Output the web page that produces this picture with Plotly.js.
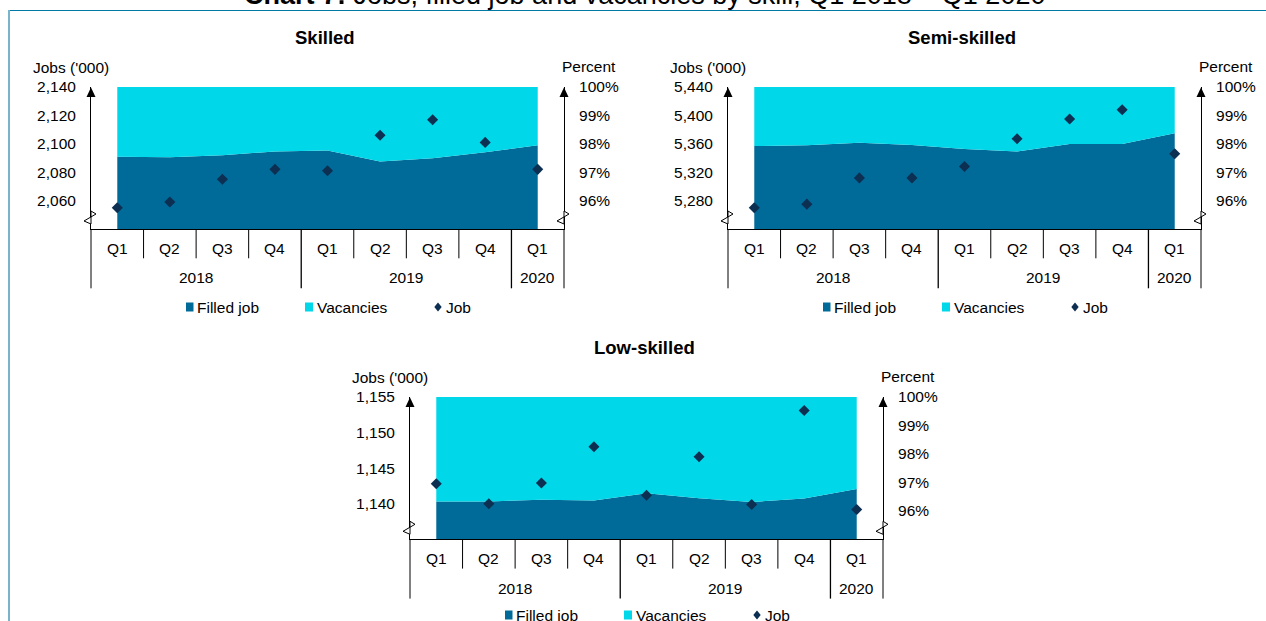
<!DOCTYPE html>
<html>
<head>
<meta charset="utf-8">
<script src="https://cdn.plot.ly/plotly-3.0.1.min.js"></script>
<style>
  html, body { margin: 0; padding: 0; background: #ffffff; overflow: hidden; }
  #chart { width: 1266px; height: 621px; }
</style>
</head>
<body>
<div id="chart"></div>
<script>
// ---- Categories ----
const quarters = ['Q1', 'Q2', 'Q3', 'Q4', 'Q1', 'Q2', 'Q3', 'Q4', 'Q1'];
const years = ['2018', '2018', '2018', '2018', '2019', '2019', '2019', '2019', '2020'];
const skillNames = ['Skilled', 'Semi-skilled', 'Low-skilled'];
const legendLabels = ['Filled job', 'Vacancies', 'Job'];
const chartTitle = '<b>Chart 7:</b> Jobs, filled job and vacancies by skill, Q1 2018 \u2013 Q1 2020';
const jobsAxisLabel = "Jobs ('000)";
const percentAxisLabel = 'Percent';

// ---- Jobs ('000), left axis ----
const skilledJobs = [2055, 2059, 2075, 2082, 2081, 2106, 2117, 2101, 2082];
const semiSkilledJobs = [5270, 5275, 5312, 5312, 5328, 5367, 5395, 5408, 5346];
const lowSkilledJobs = [1142.8, 1140.0, 1142.9, 1148.0, 1141.2, 1146.6, 1139.9, 1153.1, 1139.2];

// ---- Share of jobs (percent), right axis ----
const skilledFilled = [97.54, 97.53, 97.60, 97.73, 97.76, 97.38, 97.49, 97.70, 97.95];
const skilledVacancies = [2.46, 2.47, 2.40, 2.27, 2.24, 2.62, 2.51, 2.30, 2.05];
const semiSkilledFilled = [97.92, 97.95, 98.04, 97.96, 97.82, 97.73, 97.99, 97.99, 98.37];
const semiSkilledVacancies = [2.08, 2.05, 1.96, 2.04, 2.18, 2.27, 2.01, 2.01, 1.63];
const lowSkilledFilled = [96.33, 96.33, 96.39, 96.36, 96.62, 96.44, 96.31, 96.43, 96.77];
const lowSkilledVacancies = [3.67, 3.67, 3.61, 3.64, 3.38, 3.56, 3.69, 3.57, 3.23];

// ---- Axis ticks and ranges ----
const skilledJobTicks = [2060, 2080, 2100, 2120, 2140];
const semiSkilledJobTicks = [5280, 5320, 5360, 5400, 5440];
const lowSkilledJobTicks = [1140, 1145, 1150, 1155];
const skilledJobRange = [2040, 2140];
const semiSkilledJobRange = [5240, 5440];
const lowSkilledJobRange = [1135, 1155];
const percentTicks = [96, 97, 98, 99, 100];
const percentTickLabels = ['96%', '97%', '98%', '99%', '100%'];
const percentRange = [95, 100];

// ---- Styling ----
const W = 1266, H = 621;
const FONT = 'Liberation Sans, Arial, Helvetica, sans-serif';
const DARK = '#006a98';
const CYAN = '#00d7e9';
const NAVY = '#0c2f52';
const TXT = 15.5;

// pixel -> paper helpers
const X = px => px / W;
const Y = py => 1 - py / H;

// panel frames in pixels: left axis, right axis, plot top, plot bottom, legend row
const panels = [
  { L: 91,  R: 564,  T: 87,  B: 229,   legendY: 307,
    jobs: skilledJobs, filled: skilledFilled, vac: skilledVacancies,
    jobTicks: skilledJobTicks, jobRange: skilledJobRange },
  { L: 728, R: 1201, T: 87,  B: 229,   legendY: 307,
    jobs: semiSkilledJobs, filled: semiSkilledFilled, vac: semiSkilledVacancies,
    jobTicks: semiSkilledJobTicks, jobRange: semiSkilledJobRange },
  { L: 410, R: 883,  T: 397, B: 539.3, legendY: 615,
    jobs: lowSkilledJobs, filled: lowSkilledFilled, vac: lowSkilledVacancies,
    jobTicks: lowSkilledJobTicks, jobRange: lowSkilledJobRange }
];

const cats = quarters.map((q, i) => q + ' ' + years[i]);

const data = [];
const layout = {
  width: W, height: H,
  margin: { l: 0, r: 0, t: 0, b: 0 },
  paper_bgcolor: '#ffffff', plot_bgcolor: 'rgba(0,0,0,0)',
  font: { family: FONT, size: TXT, color: '#000000' },
  showlegend: false,
  annotations: [],
  shapes: []
};

const ann = (text, xpx, ypx, opts) => Object.assign({
  text: text, x: X(xpx), y: Y(ypx), xref: 'paper', yref: 'paper',
  showarrow: false, xanchor: 'center', yanchor: 'middle',
  font: { family: FONT, size: TXT, color: '#000000' }
}, opts || {});

const line = (x0, y0, x1, y1, color, width) => ({
  type: 'line', xref: 'paper', yref: 'paper',
  x0: X(x0), y0: Y(y0), x1: X(x1), y1: Y(y1),
  line: { color: color || '#000000', width: width || 1 }
});

const poly = (pts, fill, stroke) => ({
  type: 'path', xref: 'paper', yref: 'paper',
  path: 'M' + pts.map(p => X(p[0]) + ',' + Y(p[1])).join('L') + 'Z',
  fillcolor: fill, line: { color: stroke || fill, width: stroke ? 1 : 0 }
});

// outer frame
layout.shapes.push(line(8, 10.5, W, 10.5, '#0079a5', 1.2));
layout.shapes.push(line(9, 10, 9, H, '#7ab4cc', 2));

// main title
layout.annotations.push(ann(chartTitle, 644, -5, { font: { family: FONT, size: 27, color: '#000000' } }));

// year groups: centre index and boundaries
const yearGroups = [];
years.forEach((yr, i) => {
  const g = yearGroups[yearGroups.length - 1];
  if (g && g.year === yr) g.end = i; else yearGroups.push({ year: yr, start: i, end: i });
});

panels.forEach((p, k) => {
  const xId = k === 0 ? 'x' : 'x' + (k + 1);
  const pctId = 'y' + (2 * k + 1 === 1 ? '' : 2 * k + 1);
  const jobId = 'y' + (2 * k + 2);
  const xKey = 'xaxis' + (k === 0 ? '' : k + 1);
  const pctKey = 'yaxis' + (2 * k + 1 === 1 ? '' : 2 * k + 1);
  const jobKey = 'yaxis' + (2 * k + 2);

  // stacked shares: filled job below, vacancies on top
  data.push({
    type: 'scatter', x: cats, y: p.filled, xaxis: xId, yaxis: pctId,
    stackgroup: 'share' + k, mode: 'none', fillcolor: DARK, hoverinfo: 'skip', name: legendLabels[0]
  });
  data.push({
    type: 'scatter', x: cats, y: p.vac, xaxis: xId, yaxis: pctId,
    stackgroup: 'share' + k, mode: 'none', fillcolor: CYAN, hoverinfo: 'skip', name: legendLabels[1]
  });
  // total jobs
  data.push({
    type: 'scatter', x: cats, y: p.jobs, xaxis: xId, yaxis: jobId,
    mode: 'markers', marker: { symbol: 'diamond', size: 8.5, color: NAVY },
    hoverinfo: 'skip', name: legendLabels[2], cliponaxis: false
  });

  layout[xKey] = {
    domain: [X(p.L), X(p.R)], anchor: pctId, type: 'category',
    categoryorder: 'array', categoryarray: cats,
    range: [-0.5, cats.length - 0.5], showticklabels: false, ticks: '',
    showgrid: false, zeroline: false, showline: true, linecolor: '#000000', linewidth: 1,
    fixedrange: true
  };
  layout[pctKey] = {
    domain: [Y(p.B), Y(p.T)], anchor: xId, side: 'right',
    range: percentRange, tickmode: 'array', tickvals: percentTicks, ticktext: percentTickLabels,
    ticks: '', ticklabelstandoff: 11,
    showgrid: false, zeroline: false, showline: true, linecolor: '#000000', linewidth: 1,
    tickfont: { family: FONT, size: TXT, color: '#000000' }, fixedrange: true
  };
  layout[jobKey] = {
    overlaying: pctId, anchor: xId, side: 'left',
    range: p.jobRange, tickvals: p.jobTicks, tickformat: ',',
    ticks: '', ticklabelstandoff: 11,
    showgrid: false, zeroline: false, showline: true, linecolor: '#000000', linewidth: 1,
    tickfont: { family: FONT, size: TXT, color: '#000000' }, fixedrange: true
  };

  // panel texts
  layout.annotations.push(ann('<b>' + skillNames[k] + '</b>', p.L + 234, p.T - 50,
    { font: { family: FONT, size: 18.5, color: '#000000' } }));
  layout.annotations.push(ann(jobsAxisLabel, p.L - 20, p.T - 19.5));
  layout.annotations.push(ann(percentAxisLabel, p.R + 25, p.T - 20.5));

  // quarter labels and year labels under the axis
  quarters.forEach((q, i) => {
    layout.annotations.push({
      text: q, x: i, xref: xId, y: Y(p.B + 19.3), yref: 'paper',
      showarrow: false, xanchor: 'center', yanchor: 'middle',
      font: { family: FONT, size: TXT, color: '#000000' }
    });
  });
  yearGroups.forEach(g => {
    layout.annotations.push({
      text: g.year, x: (g.start + g.end) / 2, xref: xId, y: Y(p.B + 48.7), yref: 'paper',
      showarrow: false, xanchor: 'center', yanchor: 'middle',
      font: { family: FONT, size: TXT, color: '#000000' }
    });
  });

  // category separators: short between quarters, long at year breaks and edges
  const yearEdges = new Set([0, cats.length]);
  yearGroups.forEach(g => yearEdges.add(g.start));
  for (let b = 0; b <= cats.length; b++) {
    const long = yearEdges.has(b);
    layout.shapes.push({
      type: 'line', xref: xId + ' domain', yref: 'paper',
      x0: b / cats.length, x1: b / cats.length,
      y0: Y(p.B), y1: Y(p.B + (long ? 59.3 : 29.3)),
      line: { color: '#000000', width: long && b !== 0 && b !== cats.length ? 1.3 : 1 }
    });
  }

  // arrow heads on both value axes
  [p.L, p.R].forEach(ax => {
    layout.shapes.push(poly([[ax, p.T + 0.5], [ax - 4.5, p.T + 10], [ax + 4.5, p.T + 10]], '#000000'));
    // axis break marks
    const c = p.B - 11;
    layout.shapes.push(poly([[ax, c - 7], [ax + 5, c - 4], [ax - 7, c + 3], [ax, c + 6]], '#ffffff', '#000000'));
  });

  // legend
  const ly = p.legendY;
  layout.shapes.push(poly([[p.L + 95, ly - 4.5], [p.L + 102.5, ly - 4.5], [p.L + 102.5, ly + 4.5], [p.L + 95, ly + 4.5]], DARK));
  layout.annotations.push(ann(legendLabels[0], p.L + 104, ly, { xanchor: 'left' }));
  layout.shapes.push(poly([[p.L + 214, ly - 4.5], [p.L + 222, ly - 4.5], [p.L + 222, ly + 4.5], [p.L + 214, ly + 4.5]], CYAN));
  layout.annotations.push(ann(legendLabels[1], p.L + 223.5, ly, { xanchor: 'left' }));
  layout.shapes.push(poly([[p.L + 347, ly - 4.5], [p.L + 350.7, ly], [p.L + 347, ly + 4.5], [p.L + 343.3, ly]], NAVY));
  layout.annotations.push(ann(legendLabels[2], p.L + 353, ly, { xanchor: 'left' }));
});

Plotly.newPlot('chart', data, layout, { staticPlot: true, displayModeBar: false });
</script>
</body>
</html>
